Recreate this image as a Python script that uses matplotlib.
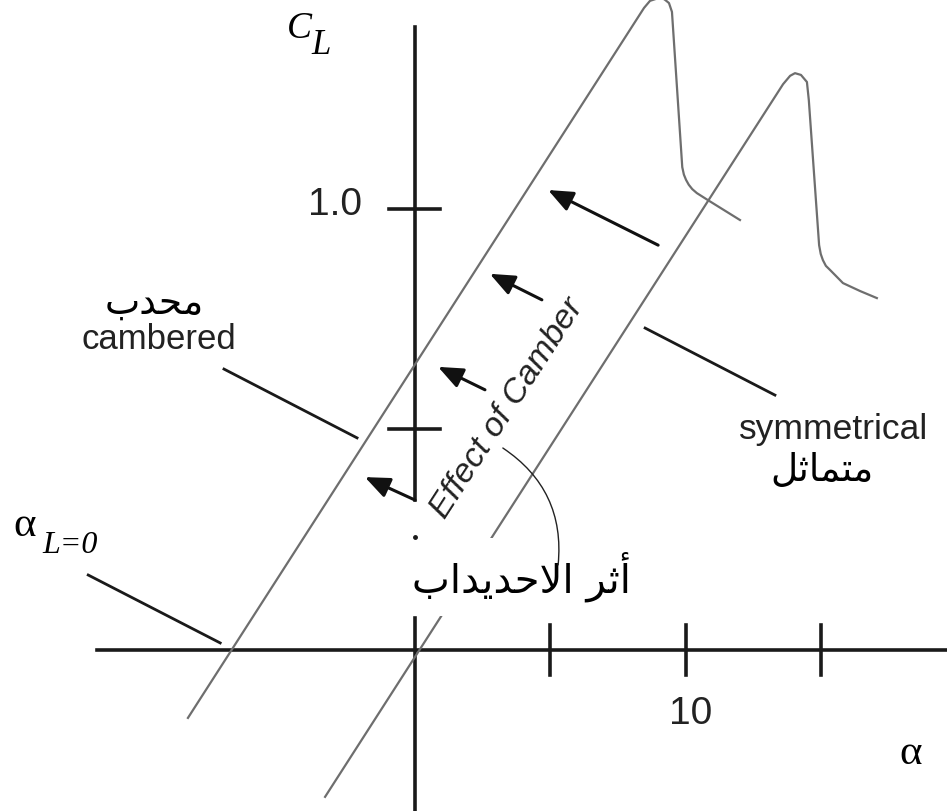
import numpy as np
import matplotlib.pyplot as plt

# lift curves, angle of attack in degrees vs C_L
sym_alpha = [-3.30, 13.60, 13.86, 14.04, 14.26, 14.48, 14.55, 14.93, 14.99, 15.07, 15.18, 15.33,
             15.81, 16.44, 17.06]
sym_cl = [-0.333, 1.283, 1.302, 1.308, 1.304, 1.288, 1.247, 0.918, 0.898, 0.884, 0.871, 0.862,
          0.832, 0.814, 0.798]

cam_alpha = [-8.36, 8.47, 8.69, 8.99, 9.21, 9.39, 9.50, 9.88, 9.94, 10.02, 10.12, 10.25, 10.42,
             10.83, 12.01]
cam_cl = [-0.154, 1.456, 1.472, 1.478, 1.476, 1.467, 1.447, 1.095, 1.078, 1.066, 1.055, 1.045,
          1.036, 1.020, 0.975]

# "effect of camber" arrows, from the symmetrical line towards the cambered one
arrow_tail_alpha = [8.99, 4.70, 2.60, 0.02]
arrow_tail_cl = [0.918, 0.794, 0.590, 0.340]
arrow_head_alpha = [4.93, 2.78, 0.87, -1.83]
arrow_head_cl = [1.043, 0.853, 0.642, 0.392]

x_ticks = [5, 10, 15]
y_ticks = [0.5, 1.0]

# Arabic presentation forms: isolated, final, initial, medial
FORMS = {
    'ا': ('\ufe8d', '\ufe8e', None, None),
    'أ': ('\ufe83', '\ufe84', None, None),
    'ب': ('\ufe8f', '\ufe90', '\ufe91', '\ufe92'),
    'ت': ('\ufe95', '\ufe96', '\ufe97', '\ufe98'),
    'ث': ('\ufe99', '\ufe9a', '\ufe9b', '\ufe9c'),
    'ح': ('\ufea1', '\ufea2', '\ufea3', '\ufea4'),
    'د': ('\ufea9', '\ufeaa', None, None),
    'ر': ('\ufead', '\ufeae', None, None),
    'ل': ('\ufedd', '\ufede', '\ufedf', '\ufee0'),
    'م': ('\ufee1', '\ufee2', '\ufee3', '\ufee4'),
    'ي': ('\ufef1', '\ufef2', '\ufef3', '\ufef4'),
    '\ufefb': ('\ufefb', '\ufefc', None, None),  # lam-alef
}


def shape(text):
    # join letters and reverse, since matplotlib lays text out left to right
    text = text.replace('لا', '\ufefb')
    out = []
    for i, ch in enumerate(text):
        if ch not in FORMS:
            out.append(ch)
            continue
        prev = i > 0 and text[i - 1] in FORMS and FORMS[text[i - 1]][2] is not None
        nxt = i < len(text) - 1 and text[i + 1] in FORMS and FORMS[ch][2] is not None
        iso, fin, ini, med = FORMS[ch]
        if prev and nxt:
            out.append(med)
        elif prev:
            out.append(fin)
        elif nxt:
            out.append(ini)
        else:
            out.append(iso)
    return ''.join(out[::-1])


plt.rcParams['font.family'] = ['Liberation Sans', 'DejaVu Sans']

fig = plt.figure(figsize=(9.47, 8.11), dpi=100)
ax = fig.add_axes([0, 0, 1, 1])
ax.set_xlim(-15.295, 19.649)
ax.set_ylim(-0.3651, 1.4739)
ax.axis('off')

# axes drawn by hand through the origin
ax.plot([-11.7, 19.649], [0, 0], color='#1a1a1a', lw=2.6)
ax.plot([0, 0], [1.413, 0.340], color='#1a1a1a', lw=2.6)
ax.plot([0, 0], [0.073, -0.3651], color='#1a1a1a', lw=2.6)
ax.plot([0], [0.256], 'o', color='#1a1a1a', ms=2.5, zorder=5)
for t in x_ticks:
    ax.plot([t, t], [-0.057, 0.057], color='#1a1a1a', lw=2.6)
for t in y_ticks:
    ax.plot([-0.94, 0.94], [t, t], color='#1a1a1a', lw=2.6)

ax.plot(sym_alpha, sym_cl, color='#6e6e6e', lw=1.6, solid_joinstyle='round')
ax.plot(cam_alpha, cam_cl, color='#6e6e6e', lw=1.6, solid_joinstyle='round')

for xt, yt, xh, yh in zip(arrow_tail_alpha, arrow_tail_cl, arrow_head_alpha, arrow_head_cl):
    ax.annotate('', xy=(xh, yh), xytext=(xt, yt),
                arrowprops=dict(arrowstyle='-|>,head_length=0.6,head_width=0.25',
                                color='#111111', lw=2.2, mutation_scale=25,
                                shrinkA=0, shrinkB=0))

# leader lines
ax.plot([-12.04, -7.17], [0.170, 0.016], color='#1a1a1a', lw=2.0)
ax.plot([-7.03, -2.12], [0.637, 0.481], color='#1a1a1a', lw=2.0)
ax.plot([8.51, 13.30], [0.730, 0.578], color='#1a1a1a', lw=2.0)

serif = 'Liberation Serif'
ax.text(-4.25, 1.408, 'C', fontsize=27, family=serif, style='italic', ha='center', va='center')
ax.text(-3.45, 1.370, 'L', fontsize=25, family=serif, style='italic', ha='center', va='center')
ax.text(-1.93, 1.01, '1.0', fontsize=28, ha='right', va='center', color='#222222')
ax.text(10.2, -0.145, '10', fontsize=28, ha='center', va='center', color='#222222')
ax.text(18.3, -0.236, 'α', fontsize=31, family=serif, ha='center', va='center')
ax.text(-14.4, 0.282, 'α', fontsize=31, family=serif, ha='center', va='center')
ax.text(-12.7, 0.236, 'L=0', fontsize=23, family=serif, style='italic', ha='center', va='center')

ax.text(-9.6, 0.785, shape('محدب'), fontsize=27, family='DejaVu Sans', ha='center', va='center')
ax.text(-9.45, 0.703, 'cambered', fontsize=25, ha='center', va='center', color='#222222')
ax.text(15.45, 0.501, 'symmetrical', fontsize=25.5, ha='center', va='center', color='#222222')
ax.text(15.05, 0.405, shape('متماثل'), fontsize=27, family='DejaVu Sans', ha='center', va='center')

ax.text(3.42, 0.547, 'Effect of Camber', fontsize=24.5, style='italic', rotation=57,
        rotation_mode='anchor', ha='center', va='center', color='#222222')
# white box behind the Arabic caption breaks the symmetrical line
ax.text(3.95, 0.165, shape('أثر الاحديداب'), fontsize=29, family='DejaVu Sans',
        ha='center', va='center', zorder=4,
        bbox=dict(facecolor='white', edgecolor='none', pad=10))
ax.annotate('', xy=(5.30, 0.193), xytext=(3.26, 0.458), zorder=6,
            arrowprops=dict(arrowstyle='-', connectionstyle='arc3,rad=-0.3',
                            color='#222222', lw=1.0, shrinkA=0, shrinkB=0))

fig.savefig('out.png', dpi=100)
